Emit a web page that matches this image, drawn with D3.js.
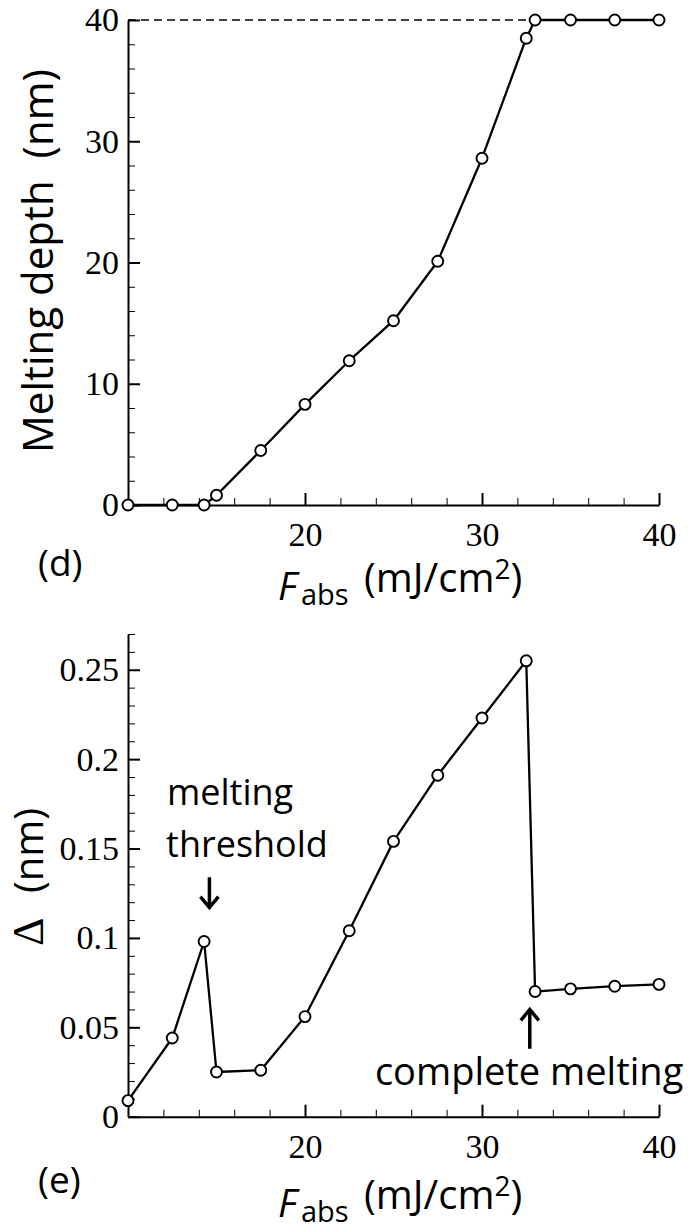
<!DOCTYPE html>
<html>
<head>
<meta charset="utf-8">
<script src="https://cdn.jsdelivr.net/npm/d3@7"></script>
<style>
  body { margin: 0; background: #fff; }
  .tick text { font-family: 'Liberation Serif', serif; font-size: 34px; fill: #000; }
  .lbl { font-family: 'Open Sans', sans-serif; fill: #000; }
</style>
</head>
<body>
<script>
// Data
const fluence = [10, 12.5, 14.3, 15, 17.5, 20, 22.5, 25, 27.5, 30, 32.5, 33, 35, 37.5, 40];
const meltDepth = [0, 0, 0, 0.8, 4.5, 8.3, 11.9, 15.2, 20.1, 28.6, 38.5, 40, 40, 40, 40];
const deltaNm = [0.009, 0.044, 0.098, 0.025, 0.026, 0.056, 0.104, 0.154, 0.191, 0.223, 0.255, 0.07, 0.0715, 0.073, 0.074];

const xTicks = [20, 30, 40];
const xMinor = [12, 14, 16, 18, 22, 24, 26, 28, 32, 34, 36, 38];
const depthTicks = [0, 10, 20, 30, 40];
const depthMinor = d3.range(2, 40, 2).filter((d) => d % 10 !== 0);
const deltaTicks = [0, 0.05, 0.1, 0.15, 0.2, 0.25];
const deltaLabels = ['0', '0.05', '0.1', '0.15', '0.2', '0.25'];
const deltaMinor = d3.range(1, 28).filter((d) => d % 5 !== 0).map((d) => d / 100);

const width = 696;
const height = 1231;
const svg = d3
  .select('body')
  .append('svg')
  .attr('width', width)
  .attr('height', height);

// Scales
const x = d3.scaleLinear().domain([10, 40]).range([128, 659]);
const yDepth = d3.scaleLinear().domain([0, 40]).range([505, 20]);
const yDelta = d3.scaleLinear().domain([0, 0.27]).range([1116.7, 634]);

// Draws axes, line and markers for one panel
function drawPanel(y, yTickVals, yMinorVals, yFormat, values) {
  const y0 = y(0);
  const g = svg.append('g');

  // minor ticks first
  g.append('g')
    .attr('transform', `translate(0,${y0})`)
    .call(d3.axisBottom(x).tickValues(xMinor).tickSize(-7).tickFormat(''))
    .call((a) => a.select('.domain').remove())
    .selectAll('line')
    .attr('stroke-width', 1);
  g.append('g')
    .attr('transform', `translate(${x(10)},0)`)
    .call(d3.axisLeft(y).tickValues(yMinorVals).tickSize(-7).tickFormat(''))
    .call((a) => a.select('.domain').remove())
    .selectAll('line')
    .attr('stroke-width', 1);

  const xa = g
    .append('g')
    .attr('transform', `translate(0,${y0})`)
    .call(
      d3.axisBottom(x).tickValues(xTicks).tickSize(-12).tickSizeOuter(0).tickPadding(17)
    );
  const ya = g
    .append('g')
    .attr('transform', `translate(${x(10)},0)`)
    .call(
      d3
        .axisLeft(y)
        .tickValues(yTickVals)
        .tickSize(-12)
        .tickSizeOuter(0)
        .tickPadding(9)
        .tickFormat(yFormat)
    );
  [xa, ya].forEach((a) => {
    a.attr('font-family', null).attr('font-size', null);
    a.select('.domain').attr('stroke-width', 2);
    a.selectAll('.tick line').attr('stroke-width', 2);
  });

  const line = d3
    .line()
    .x((d, i) => x(fluence[i]))
    .y((d) => y(d));

  g.append('path')
    .datum(values)
    .attr('d', line)
    .attr('fill', 'none')
    .attr('stroke', '#000')
    .attr('stroke-width', 2.3)
    .attr('stroke-linejoin', 'round');

  g.selectAll('circle')
    .data(values)
    .enter()
    .append('circle')
    .attr('cx', (d, i) => x(fluence[i]))
    .attr('cy', (d) => y(d))
    .attr('r', 5.5)
    .attr('fill', '#fff')
    .attr('stroke', '#000')
    .attr('stroke-width', 1.9);
  return g;
}

// (d) melting depth
svg
  .append('line')
  .attr('x1', x(10))
  .attr('x2', x(33))
  .attr('y1', yDepth(40))
  .attr('y2', yDepth(40))
  .attr('stroke', '#000')
  .attr('stroke-width', 1.6)
  .attr('stroke-dasharray', '8,5');

drawPanel(yDepth, depthTicks, depthMinor, d3.format('d'), meltDepth);

// (e) delta
drawPanel(yDelta, deltaTicks, deltaMinor, (d, i) => deltaLabels[i], deltaNm);

// Axis titles
svg
  .append('text')
  .attr('class', 'lbl')
  .attr('transform', 'translate(53,261) rotate(-90)')
  .attr('text-anchor', 'middle')
  .attr('font-size', 42)
  .attr('xml:space', 'preserve')
  .text('Melting depth  (nm)');

svg
  .append('text')
  .attr('transform', 'translate(43,946) rotate(-90)')
  .attr('font-family', 'Liberation Serif, serif')
  .attr('font-size', 44)
  .text('Δ');
svg
  .append('text')
  .attr('class', 'lbl')
  .attr('transform', 'translate(43,893) rotate(-90)')
  .attr('font-size', 40)
  .attr('stroke', '#fff')
  .attr('stroke-width', 8)
  .attr('paint-order', 'stroke')
  .text('(nm)');

function fluenceTitle(base) {
  svg
    .append('text')
    .attr('class', 'lbl')
    .attr('x', 278)
    .attr('y', base + 8)
    .attr('font-size', 39)
    .attr('font-style', 'italic')
    .text('F');
  svg
    .append('text')
    .attr('class', 'lbl')
    .attr('x', 301)
    .attr('y', base + 13)
    .attr('font-size', 29)
    .text('abs');
  const t = svg
    .append('text')
    .attr('class', 'lbl')
    .attr('x', 364)
    .attr('y', base)
    .attr('font-size', 40);
  t.append('tspan').text('(mJ/cm');
  t.append('tspan').attr('font-size', 28).attr('dy', -13).text('2');
  t.append('tspan').attr('dy', 13).text(')');
}
fluenceTitle(592);
fluenceTitle(1209);

// Panel tags
svg.append('text').attr('class', 'lbl').attr('x', 38).attr('y', 576).attr('font-size', 37).text('(d)');
svg.append('text').attr('class', 'lbl').attr('x', 38).attr('y', 1193).attr('font-size', 37).text('(e)');

// Annotations
svg.append('text').attr('class', 'lbl').attr('x', x(12.2)).attr('y', yDelta(0.1746)).attr('font-size', 36).text('melting');
svg.append('text').attr('class', 'lbl').attr('x', x(12.15)).attr('y', yDelta(0.145)).attr('font-size', 36).text('threshold');
svg.append('text').attr('class', 'lbl').attr('x', x(23.95)).attr('y', yDelta(0.0178)).attr('font-size', 38).text('complete melting');

function arrow(fx, from, to) {
  const ax = x(fx);
  const y1 = yDelta(from);
  const y2 = yDelta(to);
  const dir = y2 > y1 ? 1 : -1;
  const p = d3.path();
  p.moveTo(ax, y1);
  p.lineTo(ax, y2);
  p.moveTo(ax - 9, y2 - dir * 11);
  p.lineTo(ax, y2);
  p.lineTo(ax + 9, y2 - dir * 11);
  svg
    .append('path')
    .attr('d', p.toString())
    .attr('fill', 'none')
    .attr('stroke', '#000')
    .attr('stroke-width', 3.5);
}
arrow(14.6, 0.134, 0.117);
arrow(32.7, 0.038, 0.06);
</script>
</body>
</html>
